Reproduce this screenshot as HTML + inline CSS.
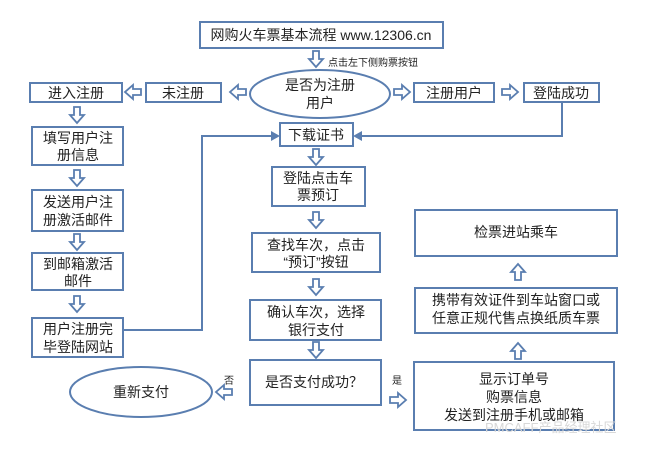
<!DOCTYPE html>
<html><head><meta charset="utf-8"><style>
body{margin:0;background:#fff;}
svg text{font-family:"Liberation Sans","Noto Sans CJK SC",sans-serif;fill:#222;}
</style></head><body>
<svg width="665" height="449" viewBox="0 0 665 449" xmlns="http://www.w3.org/2000/svg">
<defs>
<path id="ad" d="M-3,-8 L3,-8 L3,0 L7,0 L0,8 L-7,0 L-3,0 Z" fill="#fff" stroke="#5a7eb0" stroke-width="1.8"/>
</defs>
<g fill="#fff" stroke="#5a7eb0" stroke-width="2">
<rect x="200" y="22" width="243" height="26"/>
<ellipse cx="320" cy="94" rx="70" ry="24"/>
<rect x="30" y="83" width="92" height="19"/>
<rect x="146" y="83" width="75" height="19"/>
<rect x="414" y="83" width="80" height="19"/>
<rect x="524" y="83" width="75" height="19"/>
<rect x="280" y="123" width="73" height="23"/>
<rect x="272" y="167" width="93" height="39"/>
<rect x="252" y="233" width="128" height="39"/>
<rect x="250" y="300" width="131" height="40"/>
<rect x="250" y="360" width="131" height="45"/>
<ellipse cx="141" cy="392" rx="71" ry="25"/>
<rect x="414" y="362" width="200" height="68"/>
<rect x="415" y="288" width="202" height="45"/>
<rect x="415" y="210" width="202" height="46"/>
<rect x="32" y="127" width="91" height="38"/>
<rect x="32" y="190" width="91" height="41"/>
<rect x="32" y="253" width="91" height="37"/>
<rect x="32" y="318" width="91" height="39"/>
</g>
<g fill="none" stroke="#5a7eb0" stroke-width="2">
<polyline points="562,102 562,136 360,136"/>
<polyline points="123,330 202,330 202,136 273,136"/>
</g>
<g fill="#5a7eb0">
<polygon points="353,136 362,131 362,141"/>
<polygon points="280,136 271,131 271,141"/>
</g>
<!-- down arrows -->
<use href="#ad" x="316" y="59"/>
<use href="#ad" x="77" y="115"/>
<use href="#ad" x="77" y="178"/>
<use href="#ad" x="77" y="242"/>
<use href="#ad" x="77" y="304"/>
<use href="#ad" x="316" y="157"/>
<use href="#ad" x="316" y="220"/>
<use href="#ad" x="316" y="287"/>
<use href="#ad" x="316" y="350"/>
<!-- up arrows -->
<use href="#ad" transform="translate(518,272) rotate(180)"/>
<use href="#ad" transform="translate(518,351) rotate(180)"/>
<!-- left arrows -->
<use href="#ad" transform="translate(133,92) rotate(90)"/>
<use href="#ad" transform="translate(238,92) rotate(90)"/>
<use href="#ad" transform="translate(224,392) rotate(90)"/>
<!-- right arrows -->
<use href="#ad" transform="translate(402,92) rotate(-90)"/>
<use href="#ad" transform="translate(510,92) rotate(-90)"/>
<use href="#ad" transform="translate(398,400) rotate(-90)"/>
<g font-size="14" text-anchor="middle">
<text x="321" y="40">网购火车票基本流程 www.12306.cn</text>
<text x="320" y="90">是否为注册</text>
<text x="320" y="108">用户</text>
<text x="76" y="98">进入注册</text>
<text x="183" y="98">未注册</text>
<text x="454" y="98">注册用户</text>
<text x="561" y="98">登陆成功</text>
<text x="316" y="140">下载证书</text>
<text x="318" y="183">登陆点击车</text>
<text x="318" y="200">票预订</text>
<text x="316" y="250">查找车次，点击</text>
<text x="316" y="267">“预订”按钮</text>
<text x="316" y="317">确认车次，选择</text>
<text x="316" y="335">银行支付</text>
<text x="314" y="387">是否支付成功？</text>
<text x="141" y="397">重新支付</text>
<text x="514" y="384">显示订单号</text>
<text x="514" y="402">购票信息</text>
<text x="514" y="420">发送到注册手机或邮箱</text>
<text x="516" y="305">携带有效证件到车站窗口或</text>
<text x="516" y="323">任意正规代售点换纸质车票</text>
<text x="516" y="237">检票进站乘车</text>
<text x="78" y="143">填写用户注</text>
<text x="78" y="160">册信息</text>
<text x="78" y="207">发送用户注</text>
<text x="78" y="225">册激活邮件</text>
<text x="78" y="269">到邮箱激活</text>
<text x="78" y="286">邮件</text>
<text x="78" y="334">用户注册完</text>
<text x="78" y="352">毕登陆网站</text>
</g>
<text x="328" y="66" font-size="10">点击左下侧购票按钮</text>
<text x="224" y="384" font-size="10">否</text>
<text x="392" y="384" font-size="10">是</text>
<text x="485" y="432" font-size="13" fill="#ddd" style="fill:#d8d8d8">PMCAFF产品经理社区</text>
</svg>
</body></html>
